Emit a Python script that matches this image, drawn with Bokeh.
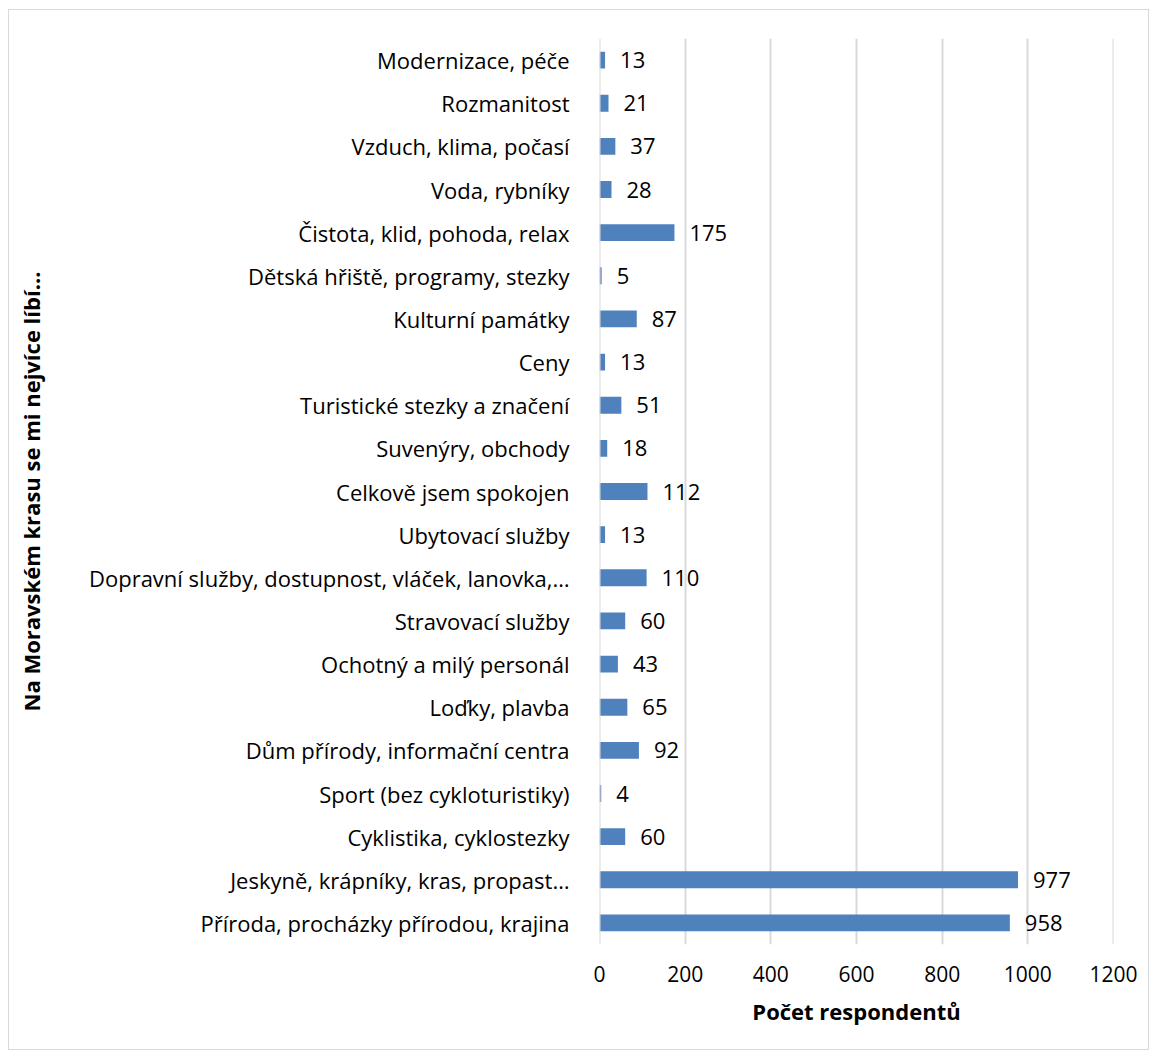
from bokeh.plotting import figure
from bokeh.models import ColumnDataSource, FactorRange, Range1d, FixedTicker, Span
from bokeh.embed import file_html
from bokeh.resources import INLINE
from bokeh.core.properties import value

categories = [
    "Modernizace, péče",
    "Rozmanitost",
    "Vzduch, klima, počasí",
    "Voda, rybníky",
    "Čistota, klid, pohoda, relax",
    "Dětská hřiště, programy, stezky",
    "Kulturní památky",
    "Ceny",
    "Turistické stezky a značení",
    "Suvenýry, obchody",
    "Celkově jsem spokojen",
    "Ubytovací služby",
    "Dopravní služby, dostupnost, vláček, lanovka,…",
    "Stravovací služby",
    "Ochotný a milý personál",
    "Loďky, plavba",
    "Dům přírody, informační centra",
    "Sport (bez cykloturistiky)",
    "Cyklistika, cyklostezky",
    "Jeskyně, krápníky, kras, propast…",
    "Příroda, procházky přírodou, krajina",
]
counts = [13, 21, 37, 28, 175, 5, 87, 13, 51, 18, 112, 13, 110, 60, 43, 65, 92, 4, 60, 977, 958]
x_ticks = [0, 200, 400, 600, 800, 1000, 1200]

cats_bt = categories[::-1]
vals_bt = counts[::-1]
src = ColumnDataSource(dict(cat=cats_bt, val=vals_bt, lab=[str(v) for v in vals_bt]))

FONT = "Open Sans"
GRID = "#d9d9d9"

p = figure(
    y_range=FactorRange(*cats_bt),
    x_range=Range1d(0, 1200),
    width=1141, height=1041,
    output_backend="svg", toolbar_location=None,
    min_border_left=590, min_border_right=37, min_border_top=28, min_border_bottom=107,
)
p.margin = (9, 0, 0, 8)
p.styles = {"border": "1px solid #d9d9d9"}
p.outline_line_color = None
p.background_fill_color = "white"

p.xgrid.grid_line_color = GRID
p.xgrid.grid_line_width = 2
p.ygrid.grid_line_color = None
for edge in (x_ticks[0], x_ticks[-1]):
    p.add_layout(Span(location=edge, dimension="height", line_color=GRID, line_width=2))

p.hbar(y="cat", right="val", left=0, height=0.39, source=src,
       fill_color="#4F81BD", line_color=None)
p.text(x="val", y="cat", text="lab", source=src, x_offset=15,
       text_baseline="middle", text_align="left",
       text_font=value(FONT), text_font_size="22px", text_color="black")

p.xaxis.ticker = FixedTicker(ticks=x_ticks)
p.xaxis.axis_line_color = None
p.xaxis.major_tick_line_color = None
p.xaxis.minor_tick_line_color = None
p.xaxis.major_label_text_font = FONT
p.xaxis.major_label_text_font_size = "21px"
p.xaxis.major_label_text_color = "black"
p.xaxis.major_label_standoff = 15
p.xaxis.axis_label = "Počet respondentů"
p.xaxis.axis_label_text_font = FONT
p.xaxis.axis_label_text_font_style = "bold"
p.xaxis.axis_label_text_font_size = "22px"
p.xaxis.axis_label_text_color = "black"
p.xaxis.axis_label_standoff = 11

p.yaxis.axis_line_color = None
p.yaxis.major_tick_line_color = None
p.yaxis.minor_tick_line_color = None
p.yaxis.major_label_text_font = FONT
p.yaxis.major_label_text_font_size = "22px"
p.yaxis.major_label_text_color = "black"
p.yaxis.major_label_standoff = 24
p.yaxis.axis_label = "Na Moravském krasu se mi nejvíce líbí…"
p.yaxis.axis_label_text_font = FONT
p.yaxis.axis_label_text_font_style = "bold"
p.yaxis.axis_label_text_font_size = "22px"
p.yaxis.axis_label_text_color = "black"
p.yaxis.axis_label_standoff = 40

open("out.html", "w").write(file_html(p, INLINE))
